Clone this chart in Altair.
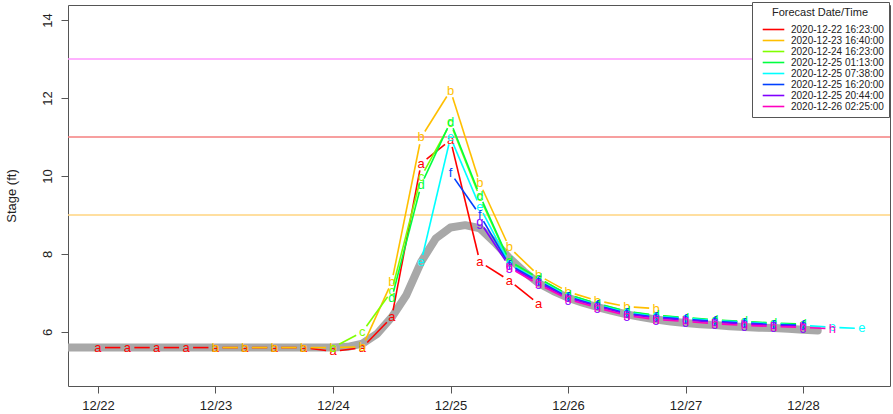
import math
import altair as alt
import pandas as pd

# ---------------- data ----------------
letters = ["a", "b", "c", "d", "e", "f", "g", "h"]
forecast_labels = [
    "2020-12-22 16:23:00",
    "2020-12-23 16:40:00",
    "2020-12-24 16:23:00",
    "2020-12-25 01:13:00",
    "2020-12-25 07:38:00",
    "2020-12-25 16:20:00",
    "2020-12-25 20:44:00",
    "2020-12-26 02:25:00",
]
colors = ["#FF0000", "#FFBF00", "#80FF00", "#00FF40", "#00FFFF", "#0040FF", "#8000FF", "#FF00BF"]

# first point of each series, in days after 12/22 00:00 ; points every 6 hours
start_days = [0.0, 1.0, 2.0, 2.5, 2.75, 3.0, 3.25, 3.5]
step_days = 0.25

a_vals = [5.6, 5.6, 5.6, 5.6, 5.6, 5.6, 5.6, 5.6, 5.5, 5.6, 6.38, 10.32, 10.92, 7.8, 7.32, 6.72]
b_vals = [5.6, 5.6, 5.6, 5.6, 5.6, 5.62, 7.28, 10.99, 12.19, 9.81, 8.17, 7.45, 7.03, 6.8, 6.65, 6.6]
c_vals = [5.6, 6.0, 7.05, 9.98, 11.35, 9.45, 7.8, 7.38, 6.95, 6.72, 6.52, 6.42, 6.36, 6.3, 6.26, 6.22, 6.19]
d_vals = [6.86, 9.77, 11.39, 9.5, 7.82, 7.38, 6.96, 6.73, 6.53, 6.43, 6.37, 6.31, 6.27, 6.23, 6.2]
e_vals = [7.8, 10.99, 9.21, 7.76, 7.32, 6.92, 6.7, 6.5, 6.4, 6.35, 6.29, 6.25, 6.21, 6.17, 6.12, 6.09]
f_vals = [10.08, 9.0, 7.72, 7.3, 6.9, 6.68, 6.48, 6.38, 6.33, 6.27, 6.23, 6.19, 6.17]
g_vals = [8.83, 7.68, 7.27, 6.88, 6.66, 6.46, 6.36, 6.31, 6.25, 6.21, 6.17, 6.15]
h_vals = [7.65, 7.22, 6.84, 6.62, 6.42, 6.32, 6.27, 6.21, 6.17, 6.14, 6.12, 6.08]
series_vals = [a_vals, b_vals, c_vals, d_vals, e_vals, f_vals, g_vals, h_vals]

# observed stage (thick grey line), every 3 hours from 12/21 18:00
obs_start = -0.25
obs_step = 0.125
obs_vals = [
    5.6, 5.6, 5.6, 5.6, 5.6, 5.6, 5.6, 5.6, 5.6, 5.6,
    5.6, 5.6, 5.6, 5.6, 5.6, 5.6, 5.6, 5.6, 5.6,
    5.62, 5.7, 5.95, 6.38, 6.95, 7.8, 8.4, 8.68, 8.74, 8.66,
    8.3, 7.9, 7.55, 7.25, 7.05, 6.88, 6.75, 6.64, 6.54, 6.45,
    6.38, 6.32, 6.27, 6.23, 6.2, 6.18, 6.15, 6.13, 6.11, 6.1,
    6.08, 6.06, 6.04,
]

thresholds = [13, 11, 9]
threshold_colors = ["#FF99FF", "#F57F7F", "#FFD580"]

x_tick_values = [0, 1, 2, 3, 4, 5, 6]
y_tick_values = [6, 8, 10, 12, 14]

# ---------------- layout ----------------
X_MIN, X_MAX = -0.255, 6.74
Y_MIN, Y_MAX = 4.615, 14.385
W, H = 822, 381
PX_X = W / (X_MAX - X_MIN)
PX_Y = H / (Y_MAX - Y_MIN)
GAP = 7.0  # pixel gap around each plotted letter (R type = "b")
FONT = "Liberation Sans"

xscale = alt.Scale(domain=[X_MIN, X_MAX], nice=False, zero=False)
yscale = alt.Scale(domain=[Y_MIN, Y_MAX], nice=False, zero=False)
xaxis = alt.Axis(values=x_tick_values, labelExpr="'12/' + (22 + datum.value)", title=None,
                 grid=False, domain=False, tickSize=7, labelPadding=6)
yaxis = alt.Axis(values=y_tick_values, title="Stage (ft)", grid=False, domain=False,
                 tickSize=7, labelAngle=270, labelAlign="center", labelBaseline="bottom",
                 labelPadding=7, titlePadding=23)


def X(field):
    return alt.X(field, type="quantitative", scale=xscale, axis=xaxis)


def Y(field):
    return alt.Y(field, type="quantitative", scale=yscale, axis=yaxis)


layers = []
for v, c in zip(thresholds, threshold_colors):
    layers.append(
        alt.Chart(pd.DataFrame({"y": [v]})).mark_rule(color=c, strokeWidth=1.5).encode(y=Y("y"))
    )

obs_df = pd.DataFrame({"x": [obs_start + i * obs_step for i in range(len(obs_vals))], "y": obs_vals})
layers.append(
    alt.Chart(obs_df).mark_line(color="#A8A8A8", strokeWidth=8, strokeCap="round",
                                strokeJoin="round", clip=True)
    .encode(x=X("x"), y=Y("y"))
)

color_enc = alt.Color(
    "label:N",
    scale=alt.Scale(domain=forecast_labels, range=colors),
    legend=alt.Legend(
        title="Forecast Date/Time", orient="none", legendX=684, legendY=-3,
        symbolType="M-2.4,0L2.4,0", symbolSize=81, symbolStrokeWidth=1.6,
        symbolOffset=11, labelOffset=12, rowPadding=0,
        labelFontSize=10, titleFontSize=11, titleFontWeight="normal",
        titleAnchor="middle", titlePadding=6, padding=5,
        strokeColor="#555555", fillColor="white", labelColor="#222222", titleColor="#222222",
    ),
)

for letter, label, col, s0, vals in zip(letters, forecast_labels, colors, start_days, series_vals):
    xs = [s0 + i * step_days for i in range(len(vals))]
    pts = pd.DataFrame({"x": xs, "y": vals, "letter": letter, "label": label})
    segs = []
    for i in range(len(vals) - 1):
        x1, y1, x2, y2 = xs[i], vals[i], xs[i + 1], vals[i + 1]
        dxp, dyp = (x2 - x1) * PX_X, (y2 - y1) * PX_Y
        L = math.hypot(dxp, dyp)
        if L <= 2 * GAP:
            continue
        f = GAP / L
        segs.append({
            "x": x1 + f * (x2 - x1), "y": y1 + f * (y2 - y1),
            "x2": x2 - f * (x2 - x1), "y2": y2 - f * (y2 - y1), "label": label,
        })
    seg_df = pd.DataFrame(segs)
    layers.append(
        alt.Chart(seg_df).mark_rule(strokeWidth=1.6).encode(
            x=X("x"), y=Y("y"), x2="x2:Q", y2="y2:Q", color=color_enc
        )
    )
    layers.append(
        alt.Chart(pts).mark_text(color=col, font=FONT, fontSize=13, align="center", baseline="middle")
        .encode(x=X("x"), y=Y("y"), text="letter:N")
    )

chart = (
    alt.layer(*layers)
    .properties(width=W, height=H, autosize=alt.AutoSizeParams(type="none"),
                padding={"left": 68, "top": 5, "right": 3, "bottom": 28})
    .configure_view(stroke="#555555", strokeWidth=1)
    .configure_axis(labelFont=FONT, titleFont=FONT, labelFontSize=13, titleFontSize=13,
                    titleFontWeight="normal", labelColor="#222222", titleColor="#222222",
                    tickColor="#555555")
    .configure_legend(labelFont=FONT, titleFont=FONT)
)

chart.save("out.html", embed_options={"renderer": "svg", "actions": False})
